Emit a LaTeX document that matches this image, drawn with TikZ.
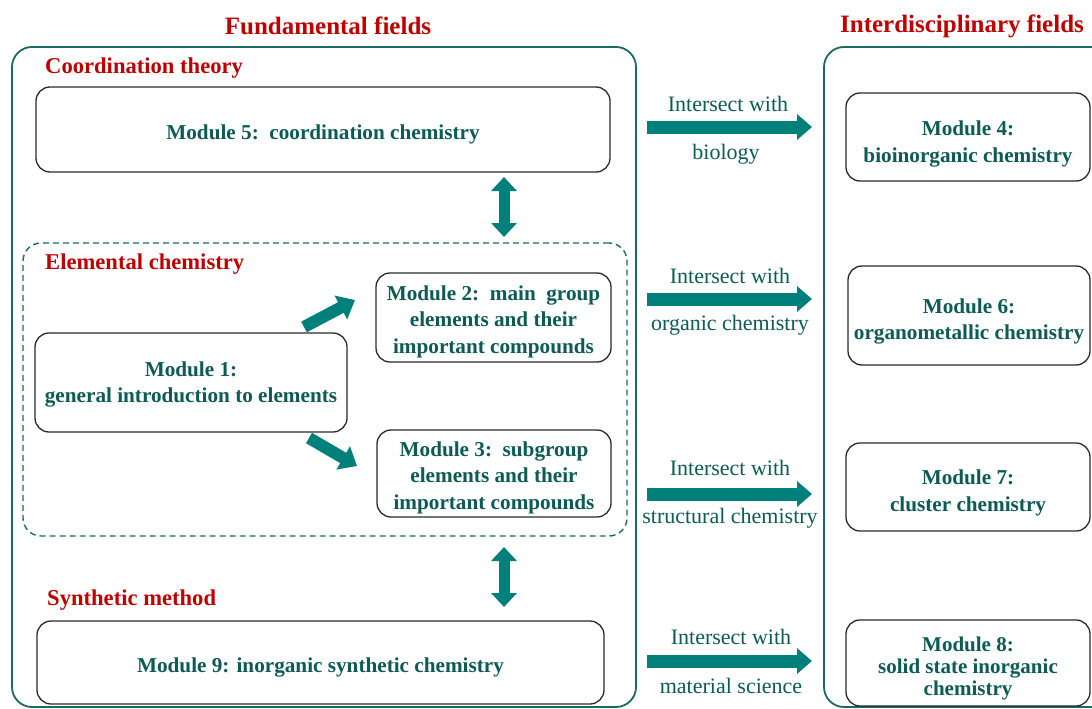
\documentclass[tikz,border=0pt]{standalone}
\usepackage{fontspec}
\setmainfont{Liberation Serif}
\usetikzlibrary{arrows.meta}
\definecolor{redt}{HTML}{C00000}
\definecolor{tealt}{HTML}{0D5B55}
\definecolor{tealb}{HTML}{1B6A62}
\definecolor{arrowc}{HTML}{00807A}
\definecolor{boxc}{HTML}{2A2A2A}
\newcommand{\tdn}[1]{\rule{0pt}{#1}}
\tikzset{
  modbox/.style={draw=boxc, line width=1.3pt, rounded corners=14pt, align=center,
    text=tealt, font=\bfseries\fontsize{21.2}{26.5}\selectfont, inner sep=0pt},
  outerbox/.style={draw=tealb, line width=1.8pt, rounded corners=20pt, inner sep=0pt},
  dashbox/.style={draw=tealb, line width=1.4pt, dash pattern=on 6pt off 4pt, rounded corners=18pt, inner sep=0pt},
  titletext/.style={text=redt, font=\bfseries\fontsize{25}{30}\selectfont, inner sep=0pt},
  sectext/.style={text=redt, font=\bfseries\fontsize{22.6}{26}\selectfont, inner sep=0pt, anchor=west},
  labtext/.style={text=tealt, font=\fontsize{22}{26}\selectfont, inner sep=0pt},
  harrow/.style={draw=arrowc, line width=13pt, -{Triangle[width=25pt,length=15pt]}},
  dgarrow/.style={draw=arrowc, line width=12pt, -{Triangle[width=26pt,length=16pt]}},
  vdarrow/.style={draw=arrowc, line width=11pt, {Triangle[width=25pt,length=14pt]}-{Triangle[width=25pt,length=14pt]}}
}
\begin{document}
\begin{tikzpicture}[x=1pt,y=-1pt]
\clip (0,0) rectangle (1092,709);
\fill[white] (0,0) rectangle (1092,709);

% titles
\node[titletext] (t1) at (328,26) {Fundamental fields};
\node[titletext] (t2) at (962,26) {Interdisciplinary fields};

% outer boxes
\node[outerbox, minimum width=624pt, minimum height=660pt] (fund) at (324,377) {};
\node[outerbox, minimum width=290pt, minimum height=660pt] (inter) at (969,377) {};
\node[dashbox, minimum width=604pt, minimum height=293pt] (elem) at (325,389.5) {};

% section labels
\node[sectext] (s1) at (45,68) {Coordination theory};
\node[sectext] (s2) at (45,264) {Elemental chemistry};
\node[sectext] (s3) at (47,600) {Synthetic method};

% modules (left)
\node[modbox, minimum width=574pt, minimum height=85pt] (m5) at (323,129.5) {\tdn{25pt}Module 5:\ \ coordination chemistry};
\node[modbox, minimum width=312pt, minimum height=99pt] (m1) at (191,382.5) {\tdn{19pt}Module 1:\\general introduction to elements};
\node[modbox, minimum width=235pt, minimum height=89pt] (m2) at (493.5,317.5) {\tdn{23pt}Module 2:\ \ main\ \ group\\elements and their\\important compounds};
\node[modbox, minimum width=234pt, minimum height=87pt] (m3) at (494,473.5) {\tdn{23pt}Module 3:\ \ subgroup\\elements and their\\important compounds};
\node[modbox, minimum width=567pt, minimum height=83pt] (m9) at (320.5,662.5) {\tdn{25pt}Module 9: inorganic synthetic chemistry};

% modules (right)
\node[modbox, minimum width=244pt, minimum height=88pt] (m4) at (968,137) {\tdn{29pt}Module 4:\\bioinorganic chemistry};
\node[modbox, minimum width=242pt, minimum height=99pt] (m6) at (969,315.5) {\tdn{27pt}Module 6:\\organometallic chemistry};
\node[modbox, minimum width=244pt, minimum height=88pt] (m7) at (968,487) {\tdn{27pt}Module 7:\\cluster chemistry};
\node[modbox, minimum width=244pt, minimum height=86pt, font=\bfseries\fontsize{21}{22}\selectfont] (m8) at (968,663) {\tdn{25pt}Module 8:\\solid state inorganic\\chemistry};

% vertical double arrows
\coordinate (v1a) at (504,177);
\coordinate (v1b) at (504,237);
\coordinate (v2a) at (504,547);
\coordinate (v2b) at (504,607);
\draw[vdarrow] (v1a) -- (v1b);
\draw[vdarrow] (v2a) -- (v2b);

% diagonal arrows
\coordinate (d1a) at (304,327);
\coordinate (d1b) at (355,300);
\coordinate (d2a) at (309,438);
\coordinate (d2b) at (357,466);
\draw[dgarrow] (d1a) -- (d1b);
\draw[dgarrow] (d2a) -- (d2b);

% horizontal arrows
\coordinate (h1a) at (647,127); \coordinate (h1b) at (812,127);
\coordinate (h2a) at (647,299); \coordinate (h2b) at (812,299);
\coordinate (h3a) at (647,494); \coordinate (h3b) at (812,494);
\coordinate (h4a) at (647,661); \coordinate (h4b) at (812,661);
\draw[harrow] (h1a) -- (h1b);
\draw[harrow] (h2a) -- (h2b);
\draw[harrow] (h3a) -- (h3b);
\draw[harrow] (h4a) -- (h4b);

% labels
\node[labtext] (l1a) at (728,104) {Intersect with};
\node[labtext] (l1b) at (726,154) {biology};
\node[labtext] (l2a) at (730,276) {Intersect with};
\node[labtext] (l2b) at (730,325) {organic chemistry};
\node[labtext] (l3a) at (730,468) {Intersect with};
\node[labtext] (l3b) at (730,518) {structural chemistry};
\node[labtext] (l4a) at (731,637) {Intersect with};
\node[labtext] (l4b) at (731,686) {material science};
\end{tikzpicture}
\end{document}
